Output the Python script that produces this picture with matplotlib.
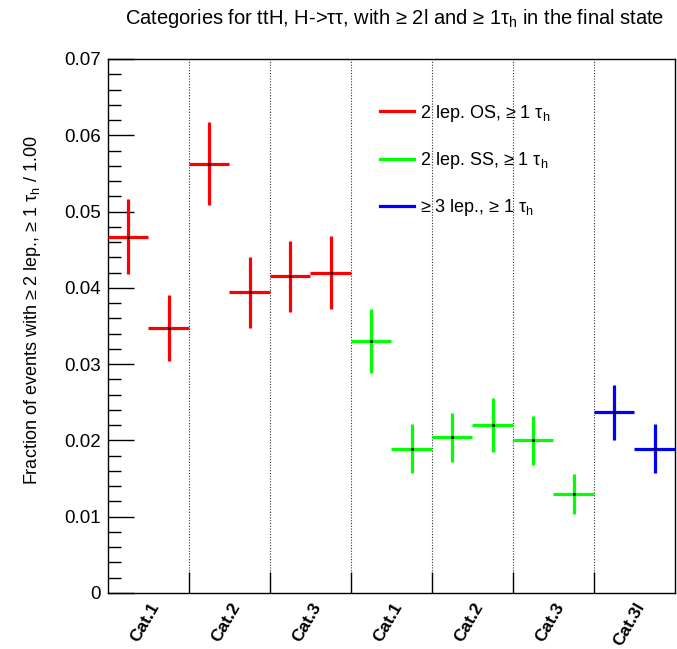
import matplotlib
matplotlib.use("Agg")
import matplotlib.pyplot as plt
import matplotlib.transforms as mtransforms
from matplotlib.lines import Line2D
import numpy as np

plt.rcParams['font.family'] = ['Liberation Sans', 'DejaVu Sans']
plt.rcParams['mathtext.fontset'] = 'custom'
plt.rcParams['mathtext.rm'] = 'Liberation Sans'
plt.rcParams['mathtext.it'] = 'Liberation Sans'

# data
categories = ["Cat.1", "Cat.2", "Cat.3", "Cat.1", "Cat.2", "Cat.3", "Cat.3l"]

os_vals = [0.0467, 0.0347, 0.0563, 0.0394, 0.0415, 0.0420]
os_errs = [0.0049, 0.0043, 0.0055, 0.0046, 0.0047, 0.0048]

ss_vals = [0.0330, 0.0189, 0.0204, 0.0220, 0.0200, 0.0130]
ss_errs = [0.0042, 0.0032, 0.0032, 0.0035, 0.0032, 0.0026]

l3_vals = [0.0237, 0.0189]
l3_errs = [0.0036, 0.0032]

fig = plt.figure(figsize=(6.77, 6.49), dpi=100)
ax = fig.add_axes([0.1595, 0.0863, 0.8375, 0.8228])

n_bins = 2 * len(categories)
ax.set_xlim(0, n_bins)
ax.set_ylim(0, 0.07)

# dotted separators between categories
for b in range(2, n_bins, 2):
    ax.axvline(b, color='black', linestyle=(0, (1, 1.5)), linewidth=0.8, alpha=0.8, zorder=1)

series = [
    (os_vals, os_errs, 0, '#ff0000', "2 lep. OS, ≥ 1 $\\tau_{h}$"),
    (ss_vals, ss_errs, len(os_vals), '#00ff00', "2 lep. SS, ≥ 1 $\\tau_{h}$"),
    (l3_vals, l3_errs, len(os_vals) + len(ss_vals), '#0000ff', "≥ 3 lep., ≥ 1 $\\tau_{h}$"),
]

handles = []
for vals, errs, start, col, lab in series:
    x = np.arange(start, start + len(vals)) + 0.5
    ax.errorbar(x, vals, yerr=errs, xerr=0.5, fmt='none', ecolor=col,
                elinewidth=2.3, capsize=0, zorder=3)
    ax.plot(x, vals, linestyle='none', marker='s', markersize=1, color='black', zorder=4)
    handles.append(Line2D([], [], color=col, linewidth=2.3, label=lab))

leg = ax.legend(handles=handles, loc='upper left', bbox_to_anchor=(0.48, 0.918),
                frameon=False, fontsize=13, handlelength=1.9, handletextpad=0.3,
                labelspacing=1.45, borderpad=0, borderaxespad=0)

# y axis ticks
ax.set_yticks(np.arange(0, 0.0701, 0.01))
ax.set_yticklabels(["0", "0.01", "0.02", "0.03", "0.04", "0.05", "0.06", "0.07"])
ax.set_yticks(np.arange(0, 0.0701, 0.002), minor=True)
ax.tick_params(axis='y', which='major', length=19, width=1, direction='in', labelsize=13.5, pad=5)
ax.tick_params(axis='y', which='minor', length=9, width=1, direction='in')

# x axis: labels at category centres, tick marks at boundaries
ax.set_xticks(np.arange(1, n_bins, 2))
ax.set_xticklabels(categories, rotation=60, fontweight='bold', fontsize=12.5,
                   ha='right', va='center', rotation_mode='anchor')
ax.set_xticks(np.arange(2, n_bins, 2), minor=True)
ax.tick_params(axis='x', which='major', length=0, pad=0)
ax.tick_params(axis='x', which='minor', length=15, width=1, direction='in')
offset = mtransforms.ScaledTranslation(7 / 100, -11 / 100, fig.dpi_scale_trans)
for t in ax.get_xticklabels():
    t.set_transform(t.get_transform() + offset)

for s in ax.spines.values():
    s.set_linewidth(1)

ax.set_ylabel("Fraction of events with ≥ 2 lep., ≥ 1 $\\tau_{h}$ / 1.00",
              fontsize=13)
ax.yaxis.set_label_coords(-0.115, 0.53)

fig.text(0.583, 0.971, "Categories for ttH, H->$\\tau\\tau$, with ≥ 2l and ≥ 1$\\tau_{h}$ in the final state",
         ha='center', va='center', fontsize=14.5)

fig.savefig("out.png", dpi=100)
